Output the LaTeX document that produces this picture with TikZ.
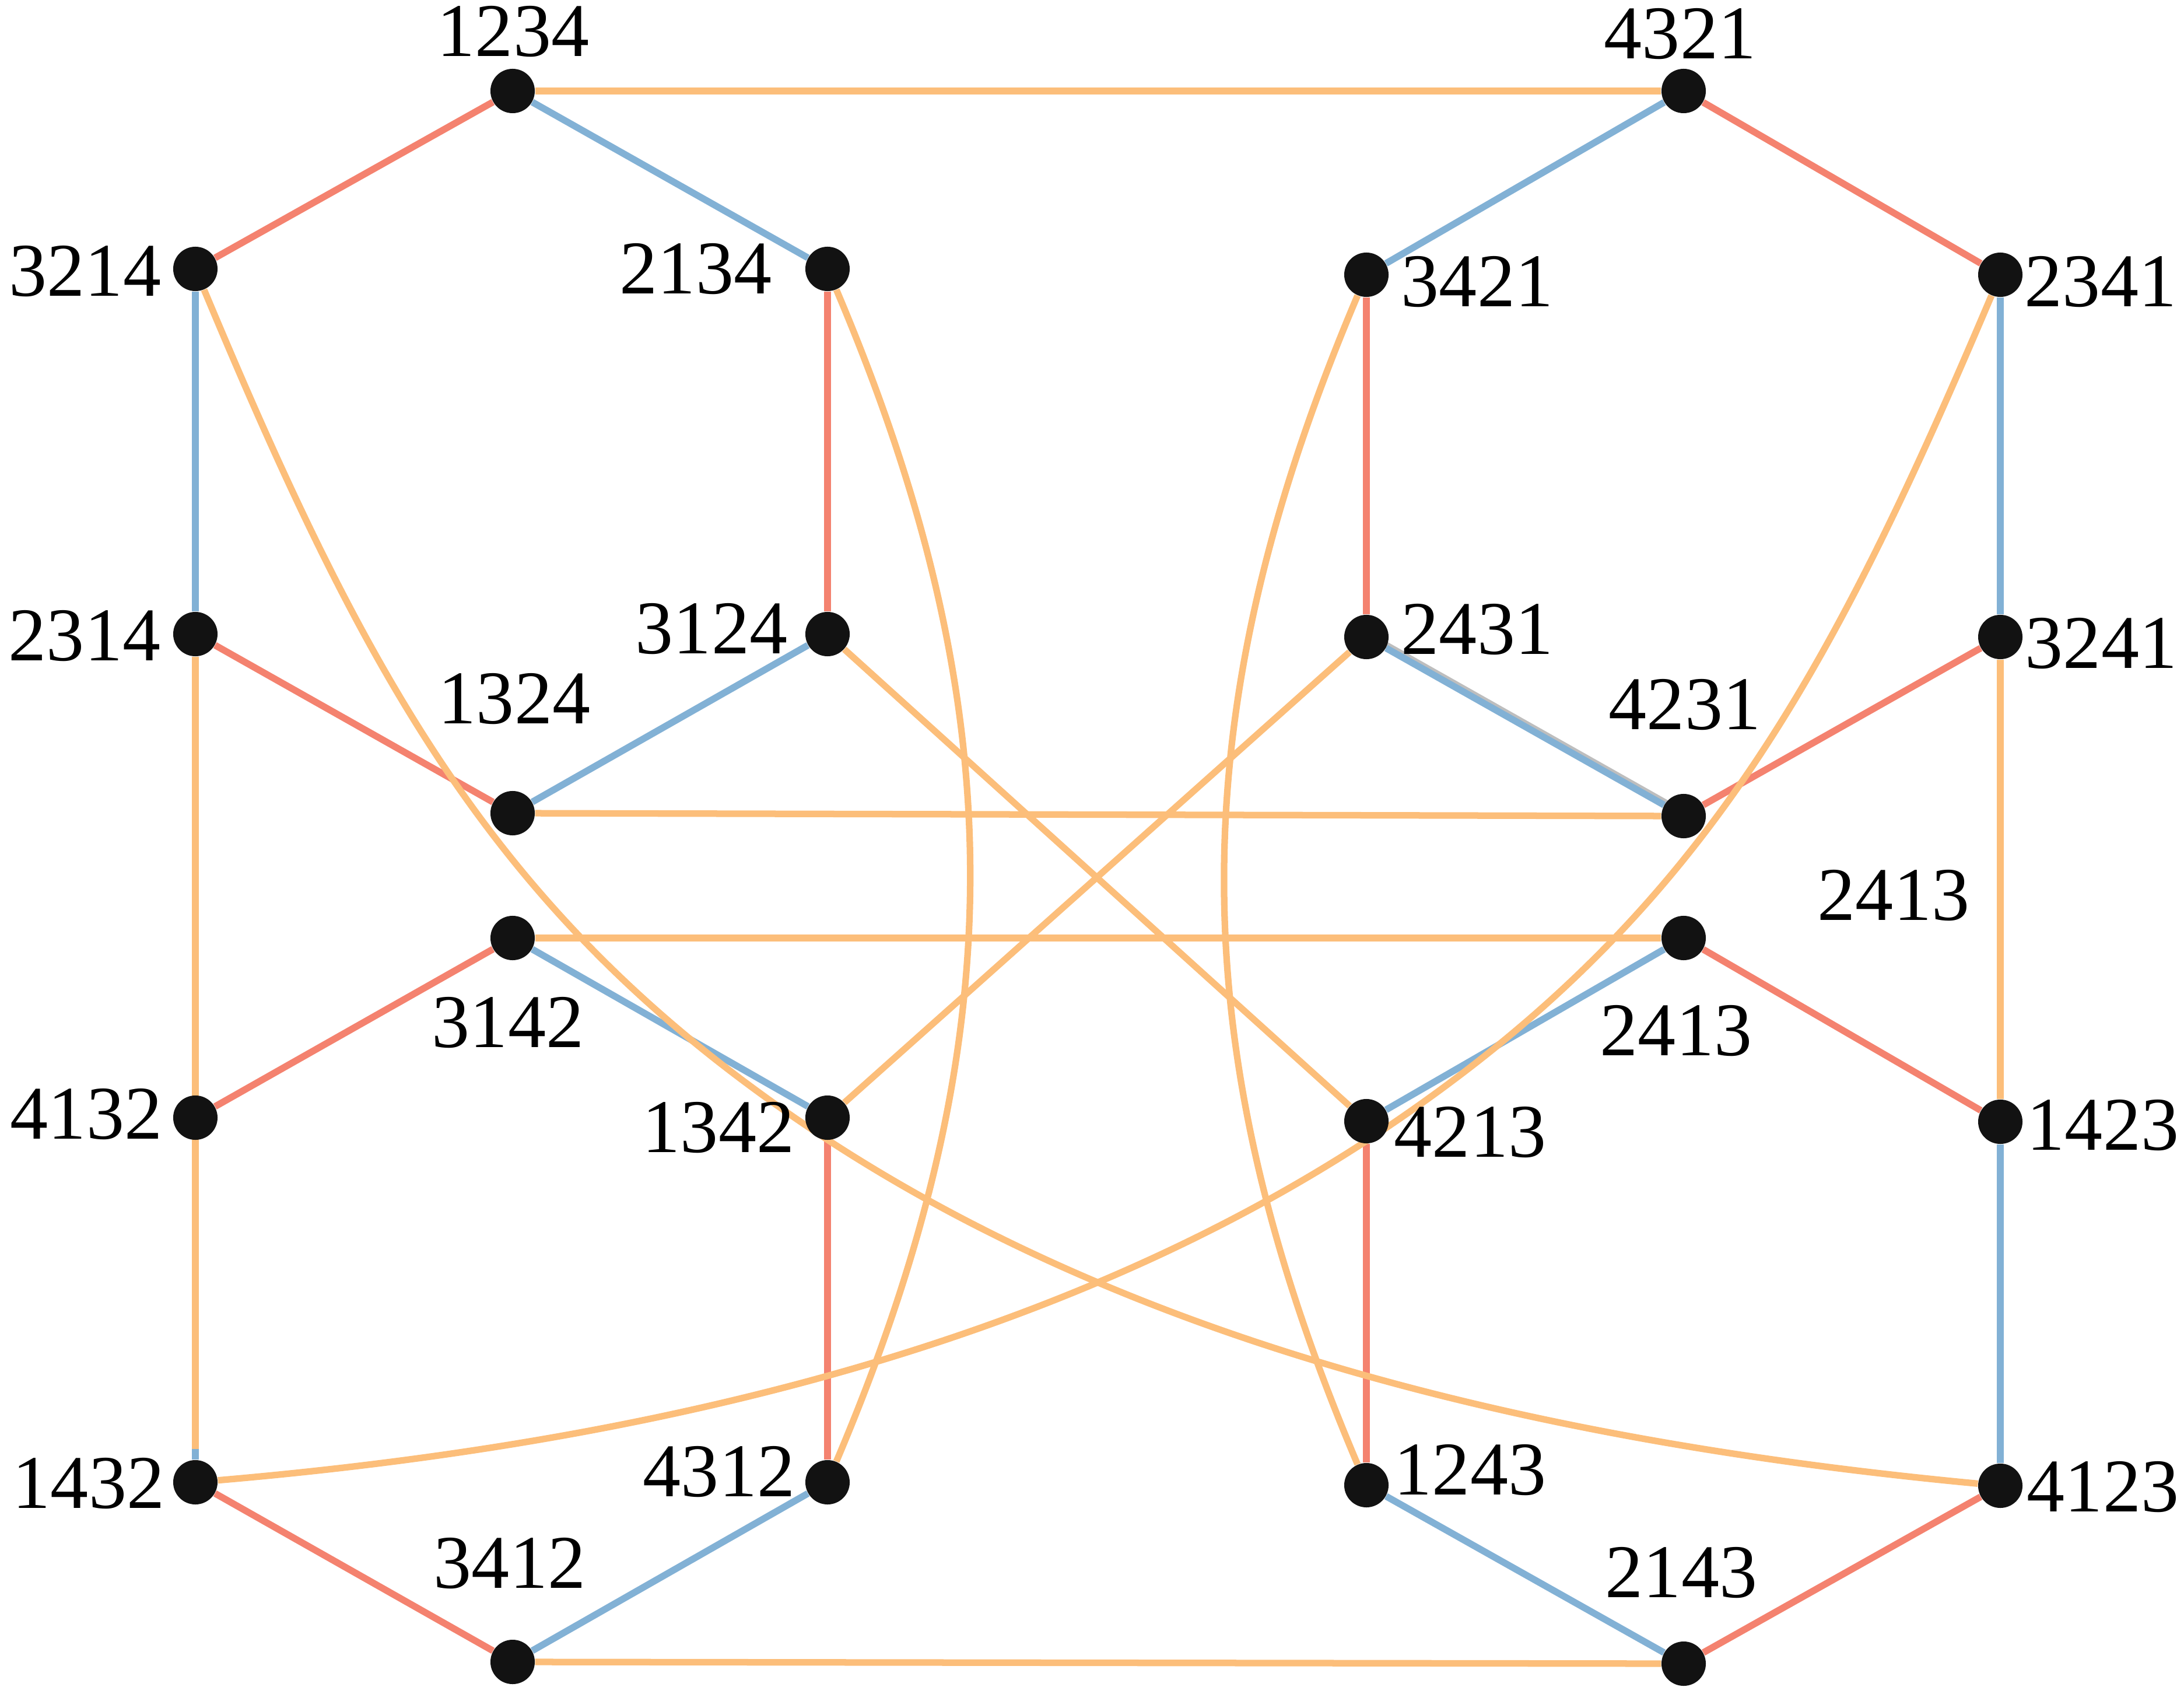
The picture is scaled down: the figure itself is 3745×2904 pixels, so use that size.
\documentclass[tikz,border=0pt]{standalone}
\usepackage{fontspec}
\setmainfont{Liberation Serif}
\usetikzlibrary{backgrounds}

\definecolor{edgered}{HTML}{F4826F}
\definecolor{edgeblue}{HTML}{82B1D5}
\definecolor{edgeorange}{HTML}{FCBE7A}
\definecolor{edgegrey}{HTML}{BEBEBE}

\tikzset{
  vert/.style={circle,fill=black!93,inner sep=0,minimum size=0.76cm},
  lbl/.style={inner sep=0,font=\fontsize{37}{40}\selectfont},
  redge/.style={edgered,line width=3.3pt},
  bedge/.style={edgeblue,line width=3.3pt},
  oedge/.style={edgeorange,line width=3.2pt},
  gedge/.style={edgegrey,line width=3.3pt},
}

\begin{document}
\begin{tikzpicture}[x=0.01cm,y=-0.01cm]

\useasboundingbox (0,0) rectangle (3745,2904);

% vertices
\foreach \n/\x/\y in {1234/879/156, 4321/2887/156,
    3214/335/461, 2134/1419/461, 3421/2343/471, 2341/3430/471,
    2314/335/1087, 3124/1419/1087, 2431/2343/1092, 3241/3430/1092,
    1324/879/1394, 4231/2887/1399, 3142/879/1608, 2413/2887/1608,
    4132/335/1916, 1342/1419/1916, 4213/2343/1922, 1423/3430/1923,
    1432/335/2541, 4312/1419/2541, 1243/2343/2546, 4123/3430/2547,
    3412/879/2849, 2143/2887/2852}
  \node[vert] (p\n) at (\x,\y) {};

% labels
\foreach \n/\x/\y in {1234/880/54, 4321/2881/58,
    3214/146/465, 2134/1193/461, 3421/2533/483, 2341/3602/483,
    2314/145/1090, 3124/1220/1078, 2431/2533/1079, 3241/3603/1103,
    1324/882/1198, 4231/2889/1208, 3142/871/1753, 2413/2874/1767,
    4132/148/1910, 1342/1232/1933, 4213/2521/1941, 1423/3606/1929,
    1432/152/2543, 4312/1233/2523, 1243/2521/2520, 4123/3606/2549,
    3412/874/2680, 2143/2883/2696}
  \node[lbl] (l\n) at (\x,\y) {\n};
\node[lbl] (l2413b) at (3247,1535) {2413};

\coordinate (c1432) at (335,2484);

\begin{scope}[on background layer]
\draw[gedge] ([xshift=0.63pt,yshift=1.11pt]p2431.center) -- ([xshift=0.63pt,yshift=1.11pt]p4231.center);

% red edges
\foreach \a/\b in {3214/1234, 4321/2341, 2134/3124, 3421/2431, 2314/1324, 4231/3241,
    4132/3142, 2413/1423, 1342/4312, 4213/1243, 1432/3412, 2143/4123}
  \draw[redge] (p\a) -- (p\b);

% blue edges
\foreach \a/\b in {1234/2134, 4321/3421, 3214/2314, 2341/3241, 1324/3124, 2431/4231,
    3142/1342, 2413/4213, 1423/4123, 4312/3412, 1243/2143, 4132/1432}
  \draw[bedge] (p\a) -- (p\b);

% orange edges
\foreach \a/\b in {1234/4321, 1324/4231, 3142/2413, 3412/2143, 3241/1423,
    3124/4213, 2431/1342}
  \draw[oedge] (p\a) -- (p\b);
\draw[oedge,line width=3.4pt] (p2314) -- (c1432);
\draw[oedge] (p2134) to[bend left=23] (p4312);
\draw[oedge] (p3421) to[bend right=23] (p1243);
\draw[oedge] (p3214) .. controls (627,1159) and (847,1569) .. (1386,1932)
  .. controls (1975,2329) and (2722,2480) .. (p4123);
\draw[oedge] (p1432) .. controls (1043,2480) and (1790,2329) .. (2379,1932)
  .. controls (2918,1569) and (3138,1159) .. (p2341);
\end{scope}

\end{tikzpicture}
\end{document}
